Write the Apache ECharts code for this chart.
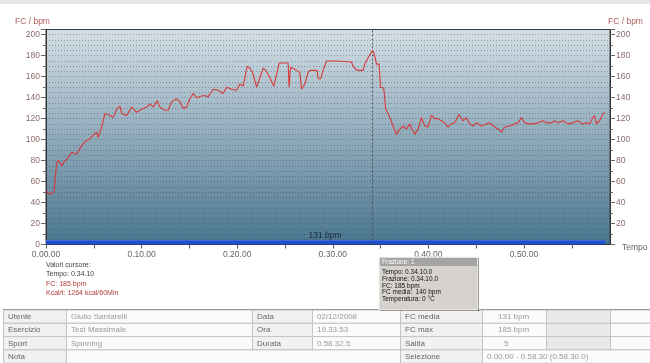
<!DOCTYPE html>
<html><head><meta charset="utf-8">
<script src="https://cdn.jsdelivr.net/npm/echarts@6/dist/echarts.min.js"></script>
<style>html,body{margin:0;padding:0;background:#fff}#c{width:650px;height:363px}</style>
</head><body><div id="c"></div>
<script>
// Tempo (minuti) e frequenza cardiaca (bpm)
const tempo = [0.07,0.21,0.42,0.63,0.84,0.99,1.12,1.31,1.46,1.67,1.88,2.16,2.40,2.69,2.93,3.21,3.45,3.73,3.97,4.25,4.60,4.91,5.30,5.47,5.82,6.17,6.35,6.69,7.04,7.39,7.74,7.91,8.44,8.96,9.48,10.00,10.53,10.87,11.22,11.63,11.92,12.44,12.78,13.14,13.66,14.01,14.35,14.71,15.05,15.40,15.75,16.44,16.97,17.49,18.01,18.53,18.89,19.41,19.94,20.28,20.63,21.04,21.33,21.61,22.03,22.37,22.72,23.00,23.42,23.83,24.12,24.39,25.33,25.43,25.58,26.03,26.55,26.73,27.07,27.42,27.60,28.36,28.47,28.72,28.99,29.34,30.32,30.45,31.96,32.12,32.41,32.65,33.17,33.35,33.69,34.17,34.29,34.44,34.57,34.84,34.99,35.33,35.54,35.78,35.96,36.31,36.66,37.01,37.35,37.71,38.05,38.57,38.92,39.27,39.62,39.96,40.32,40.67,41.01,41.37,41.71,42.06,42.41,42.76,43.21,43.62,43.98,44.32,44.67,45.02,45.55,46.07,46.41,46.94,47.46,47.64,47.98,48.51,49.03,49.37,49.73,50.07,50.42,50.94,51.46,51.99,52.34,52.86,53.21,53.55,54.08,54.60,55.12,55.65,56.10,56.52,56.87,57.21,57.39,57.57,57.91,58.26,58.44];
const fc = [51,49,48,49,50,65,78,80,81,75,79,81,84,88,87,86,90,94,97,99,101,104,107,102,112,125,126,123,121,129,132,125,123,131,126,129,131,134,131,137,131,128,128,136,139,136,130,131,139,144,140,142,141,148,147,144,150,148,147,153,151,170,168,164,150,159,168,166,159,151,162,173,173,150,169,167,164,148,153,164,166,166,158,158,166,175,175,174,174,170,167,166,166,172,178,185,183,178,172,172,150,149,129,125,121,113,105,110,113,110,115,105,110,121,113,112,123,120,120,118,116,112,115,116,124,118,121,115,113,116,113,115,116,112,109,107,112,113,115,116,121,116,115,115,116,118,116,116,118,116,118,115,116,118,115,116,115,121,123,115,118,124,126];
const bandaTempo = [0, 58.5];
const bandaValori = [3.6, 3.6];
const cursoreTempo = 34 + 10/60;
const fcMediaLabel = "131 bpm";
const yLabelTicks = [0,20,40,60,80,100,120,140,160,180,200];
const cursoreTesti = ["Valori cursore:", "Tempo: 0.34.10", "FC: 185 bpm", "Kcal/t: 1264 kcal/60Min"];
const frazioneTitolo = "Frazione: 1";
const frazioneTesti = ["Tempo: 0.34.10.0", "Frazione: 0.34.10.0", "FC: 185 bpm", "FC media:  140 bpm", "Temperatura: 0 \u00b0C"];
const tabellaRighe = [
  ["Utente","Giulio Santarelli","Data","02/12/2008","FC media","131 bpm","",""],
  ["Esercizio","Test Massimale","Ora","19.33.53","FC max","185 bpm","",""],
  ["Sport","Spinning","Durata","0.58.32.5","Salita","5","",""],
  ["Nota","","","","Selezione","0.00.00 - 0.58.30 (0.58.30.0)","",""]
];

const FONT = "Liberation Sans";
const chart = echarts.init(document.getElementById('c'), null, {renderer:'canvas'});

function fmtTempo(v){
  if (v % 10 !== 0) return '';
  return '0.' + String(v).padStart(2,'0') + '.00';
}

const graphics = [];
graphics.push({type:'rect', shape:{x:0,y:0,width:650,height:4}, style:{fill:'#e4e8e4'}, silent:true});
graphics.push({type:'text', left:15, top:17, style:{text:'FC / bpm', fill:'#b0605a', font:'8.5px '+FONT}});
graphics.push({type:'text', left:608, top:17, style:{text:'FC / bpm', fill:'#b0605a', font:'8.5px '+FONT}});
graphics.push({type:'text', left:622, top:243, style:{text:'Tempo', fill:'#666', font:'8.5px '+FONT}});
graphics.push({type:'text', x:325, y:236, style:{text:fcMediaLabel, fill:'#1c2a3a', font:'8.5px '+FONT, textAlign:'center', textVerticalAlign:'middle'}, z:10});
cursoreTesti.forEach((t,i)=>{
  graphics.push({type:'text', x:46, y:265+i*9.3, style:{text:t, fill: i<2 ? '#444' : '#b03a3a', font:'7px '+FONT, textVerticalAlign:'middle'}});
});
const bx=379, by=257, bw=99, bh=53;
graphics.push({type:'rect', shape:{x:bx+1,y:by+1,width:bw,height:bh}, style:{fill:'#404040'}, z:20});
graphics.push({type:'rect', shape:{x:bx,y:by,width:bw,height:bh}, style:{fill:'#d6d3ce', stroke:'#f4f4f4', lineWidth:1}, z:21});
graphics.push({type:'rect', shape:{x:bx+1,y:by+1,width:bw-2,height:8}, style:{fill:'#a4a4a4'}, z:22});
graphics.push({type:'text', x:bx+3, y:by+5.5, style:{text:frazioneTitolo, fill:'#fff', font:'6.5px '+FONT, textVerticalAlign:'middle'}, z:23});
frazioneTesti.forEach((t,i)=>{
  graphics.push({type:'text', x:bx+3, y:by+15.5+i*6.7, style:{text:t, fill:'#111', font:'6.5px '+FONT, textVerticalAlign:'middle'}, z:23});
});
const cols=[3,66,252,312,400,482,546,610,650];
const rowTop=309.5, rowH=13.3;
tabellaRighe.forEach((r,ri)=>{
  const y=rowTop+ri*rowH;
  let cells;
  if (ri===3) cells=[[0,1,0],[1,4,1],[4,5,4],[5,8,5]];
  else cells=[[0,1,0],[1,2,1],[2,3,2],[3,4,3],[4,5,4],[5,6,5],[6,7,6],[7,8,7]];
  cells.forEach(([a,b,idx])=>{
    const isLabel = (idx===0||idx===2||idx===4);
    let fill = isLabel ? '#f1f1f1' : '#fbfbfb';
    if (idx===6) fill='#e9e9e9';
    graphics.push({type:'rect', shape:{x:cols[a]+0.5,y:y+0.5,width:cols[b]-cols[a],height:rowH}, style:{fill:fill, stroke:'#c4c4c4', lineWidth:1}});
    const txt=r[idx];
    if (txt){
      let tx=cols[a]+5;
      if (idx===5 && ri<3) tx = (ri===2) ? 504 : 498;
      graphics.push({type:'text', x:tx, y:y+7.2, style:{text:txt, fill: isLabel ? '#666' : '#9a9a9a', font:'8px '+FONT, textVerticalAlign:'middle'}});
    }
  });
});
graphics.push({type:'line', shape:{x1:3,y1:309.5,x2:650,y2:309.5}, style:{stroke:'#9a9a9a', lineWidth:1}});

const fcData = tempo.map((t,i)=>[t, fc[i]]);
const bandaData = bandaTempo.map((t,i)=>[t, bandaValori[i]]);

chart.setOption({
  animation:false,
  backgroundColor:'#fff',
  grid:{left:46, right:40, top:29.5, bottom:118.5, show:true, borderColor:'#3a3a3a', borderWidth:1,
    backgroundColor: new echarts.graphic.LinearGradient(0,0,0,1,[
      {offset:0,color:'#d4dee5'},{offset:0.45,color:'#97b0bf'},{offset:1,color:'#4a7590'}])},
  xAxis:{type:'value', min:0, max:59, interval:5,
    axisLine:{show:true, lineStyle:{color:'#333'}},
    axisTick:{show:true, length:4, lineStyle:{color:'#555'}},
    axisLabel:{formatter:fmtTempo, color:'#666', fontFamily:FONT, fontSize:8.5, margin:6, showMaxLabel:false},
    splitLine:{show:false}},
  yAxis:[
    {type:'value', min:0, max:205, interval:20, position:'left',
      axisLine:{show:true, lineStyle:{color:'#333'}},
      axisTick:{show:true, length:5, lineStyle:{color:'#666'}},
      minorTick:{show:true, splitNumber:2, length:3, lineStyle:{color:'#666'}},
      axisLabel:{color:'#8b6b6b', fontFamily:FONT, fontSize:8.5, margin:6, formatter:v=>yLabelTicks.includes(v)?String(v):'', showMaxLabel:false},
      splitLine:{show:false}},
    {type:'value', min:0, max:205, interval:20, position:'right',
      axisLine:{show:true, lineStyle:{color:'#333'}},
      axisTick:{show:true, length:5, lineStyle:{color:'#666'}},
      minorTick:{show:true, splitNumber:2, length:3, lineStyle:{color:'#666'}},
      axisLabel:{color:'#8b6b6b', fontFamily:FONT, fontSize:8.5, margin:6, formatter:v=>(v>0&&yLabelTicks.includes(v))?String(v):'', showMaxLabel:false},
      splitLine:{show:false}},
    {type:'value', min:0, max:205, interval:5, position:'left',
      axisLine:{show:false}, axisTick:{show:false}, axisLabel:{show:false},
      splitLine:{show:true, lineStyle:{color:'rgba(40,55,70,0.38)', type:[1,2], width:1}}}
  ],
  series:[
    {type:'line', data:bandaData, yAxisIndex:0, symbol:'none', silent:true,
      lineStyle:{color:'#3a6ae6', width:1}, areaStyle:{color:'#1e4ec8', opacity:1}, z:3},
    {type:'line', data:fcData, yAxisIndex:0, symbol:'none', silent:true,
      lineStyle:{color:'#d63a3a', width:1.1}, z:5,
      markLine:{symbol:'none', silent:true, label:{show:false},
        lineStyle:{type:[2,2], color:'#4a5560', width:1},
        data:[{xAxis:cursoreTempo}]}}
  ],
  graphic:graphics
});
</script></body></html>
